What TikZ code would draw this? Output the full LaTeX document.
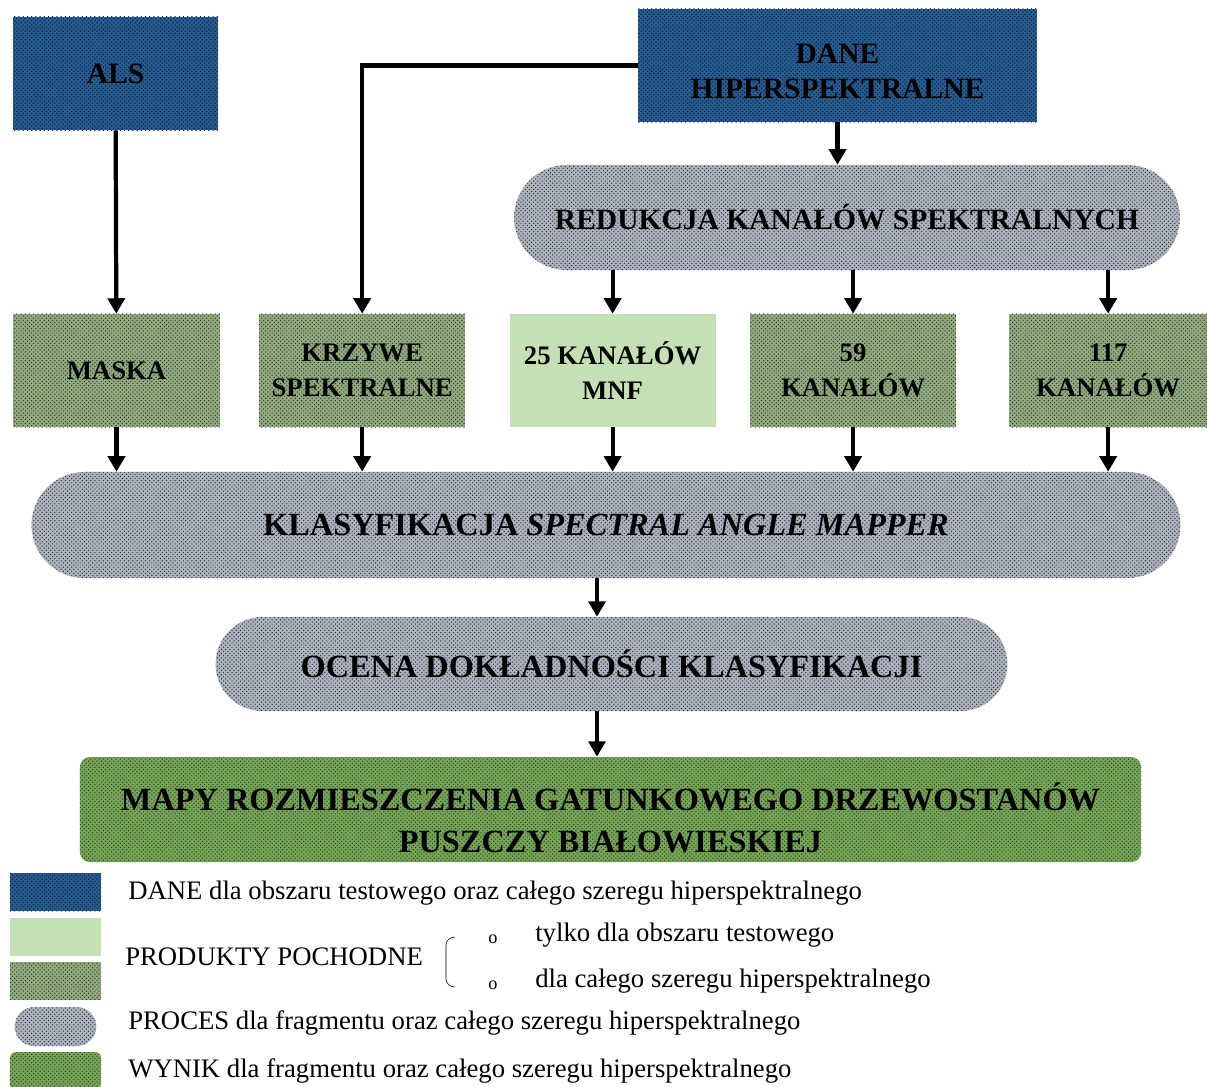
\documentclass[tikz,border=0pt]{standalone}
\usepackage{fontspec}
\setmainfont{Liberation Serif}
\usetikzlibrary{positioning}
\usetikzlibrary{shapes, arrows.meta, patterns}

\definecolor{daneblue}{RGB}{38,92,145}
\definecolor{danedark}{RGB}{10,25,45}
\definecolor{prodgreen}{RGB}{197,224,180}
\definecolor{prodmid}{RGB}{145,170,128}
\definecolor{proddark}{RGB}{40,58,32}
\definecolor{procgrey}{RGB}{172,178,190}
\definecolor{procdark}{RGB}{45,50,62}
\definecolor{wynikgreen}{RGB}{118,165,88}
\definecolor{wynikdark}{RGB}{38,65,25}

\newcommand{\boxfont}{\fontsize{21}{25}\selectfont\bfseries}
\newcommand{\smallboxfont}{\fontsize{19}{25}\selectfont\bfseries}
\newcommand{\bigboxfont}{\fontsize{23}{30}\selectfont\bfseries}
\newcommand{\legfont}{\fontsize{19}{22}\selectfont}

\begin{document}
\begin{tikzpicture}[x=0.025cm, y=-0.025cm, auto]
    \tikzstyle{dane} = [rectangle, fill=daneblue,
    postaction={pattern=crosshatch dots, pattern color=danedark},
    minimum height=2.825cm, align=center, font=\boxfont]
    \tikzstyle{produkt} = [rectangle, fill=prodmid,
    postaction={pattern=crosshatch dots, pattern color=proddark},
    minimum width=5.15cm, minimum height=2.825cm, align=center, font=\smallboxfont]
    \tikzstyle{testowy} = [rectangle, fill=prodgreen,
    minimum width=5.15cm, minimum height=2.825cm, align=center, font=\smallboxfont]
    \tikzstyle{proces} = [rounded rectangle, fill=procgrey,
    postaction={pattern=crosshatch dots, pattern color=procdark},
    align=center, font=\bigboxfont]
    \tikzstyle{wynik} = [rectangle, rounded corners=0.25cm, fill=wynikgreen,
    postaction={pattern=crosshatch dots, pattern color=wynikdark},
    align=center, font=\bigboxfont]
    \tikzstyle{line} = [draw, line width=3pt, -{Triangle[length=11pt, width=12pt]}]
    \tikzstyle{legenda} = [anchor=west, inner sep=0pt, font=\legfont]
    \useasboundingbox (0,0) rectangle (1207,1086);
    % dane wejsciowe
    \node [dane, minimum width=5.125cm] (als) at (115.5,73.5) {ALS};
    \node [dane, minimum width=9.975cm] (hiper) at (837.5,65.5)
    {\rule{0pt}{22pt}DANE\\HIPERSPEKTRALNE};
    \node [proces, minimum width=16.875cm, minimum height=2.625cm, font=\boxfont] (redukcja)
    at (847,217.5) {REDUKCJA KANAŁÓW SPEKTRALNYCH};
    % produkty pochodne
    \node [produkt] (maska) at (116.5,370.5) {MASKA};
    \node [produkt, right of=maska, node distance=6.14cm] (krzywe) {KRZYWE\\SPEKTRALNE};
    \node [testowy, right of=krzywe, node distance=6.26cm] (mnf) {25 KANAŁÓW\\MNF};
    \node [produkt, right of=mnf, node distance=6.01cm] (k59) {59\\KANAŁÓW};
    \node [produkt, right of=k59, node distance=6.375cm, minimum width=4.95cm] (k117)
    {117\\KANAŁÓW};
    % procesy i wynik
    \node [proces, minimum width=28.95cm, minimum height=2.65cm] (sam) at (606,525)
    {KLASYFIKACJA \textit{SPECTRAL ANGLE MAPPER}};
    \node [proces, minimum width=20.025cm, minimum height=2.35cm] (ocena) at (611.5,664)
    {OCENA DOKŁADNOŚCI KLASYFIKACJI};
    \node [wynik, minimum width=26.525cm, minimum height=2.625cm] (mapy) at (610.5,809.5)
    {\rule{0pt}{32pt}MAPY ROZMIESZCZENIA GATUNKOWEGO DRZEWOSTANÓW\\PUSZCZY BIAŁOWIESKIEJ};
    \coordinate (os) at (597,0);
    \path [line] (als) -- (maska);
    \path [line] (hiper.west) -| (krzywe.north);
    \path [line] (hiper.south) -- (hiper.south |- redukcja.north);
    \path [line] (redukcja.south -| mnf.north) -- (mnf);
    \path [line] (redukcja.south -| k59.north) -- (k59);
    \path [line] (redukcja.south -| k117.north) -- (k117);
    \path [line] (maska) -- (maska.south |- sam.north);
    \path [line] (krzywe) -- (krzywe.south |- sam.north);
    \path [line] (mnf) -- (mnf.south |- sam.north);
    \path [line] (k59) -- (k59.south |- sam.north);
    \path [line] (k117) -- (k117.south |- sam.north);
    \path [line] (sam.south -| os) -- (ocena.north -| os);
    \path [line] (ocena.south -| os) -- (mapy.north -| os);
    % legenda
    \node [dane, minimum width=2.275cm, minimum height=0.95cm] (lgdane) at (55.5,892) {};
    \node [testowy, minimum width=2.275cm, minimum height=0.95cm] (lgtest) at (55.5,937) {};
    \node [produkt, minimum width=2.275cm, minimum height=0.95cm] (lgprod) at (55.5,981) {};
    \node [proces, minimum width=2.275cm, minimum height=0.975cm] (lgproc) at (55.5,1026.5) {};
    \node [wynik, rounded corners=0.15cm, minimum width=2.275cm, minimum height=0.95cm] (lgwynik)
    at (55.5,1071) {};
    \node [legenda] (txdane) at (128,893)
    {DANE dla obszaru testowego oraz całego szeregu hiperspektralnego};
    \node [legenda] (txprod) at (125,957) {PRODUKTY POCHODNE};
    \node [legenda, font=\fontsize{13}{15}\selectfont] (pkt1) at (488,939) {o};
    \node [legenda, font=\fontsize{13}{15}\selectfont] (pkt2) at (488,985) {o};
    \node [legenda] (txtest) at (535,935) {tylko dla obszaru testowego};
    \node [legenda] (txcaly) at (535,981) {dla całego szeregu hiperspektralnego};
    \node [legenda] (txproc) at (128,1023)
    {PROCES dla fragmentu oraz całego szeregu hiperspektralnego};
    \node [legenda] (txwynik) at (128,1071)
    {WYNIK dla fragmentu oraz całego szeregu hiperspektralnego};
    \draw [thin] (455,937) to[out=180, in=90] (446,945) -- (446,979)
    to[out=270, in=180] (455,987);
\end{tikzpicture}
\end{document}
